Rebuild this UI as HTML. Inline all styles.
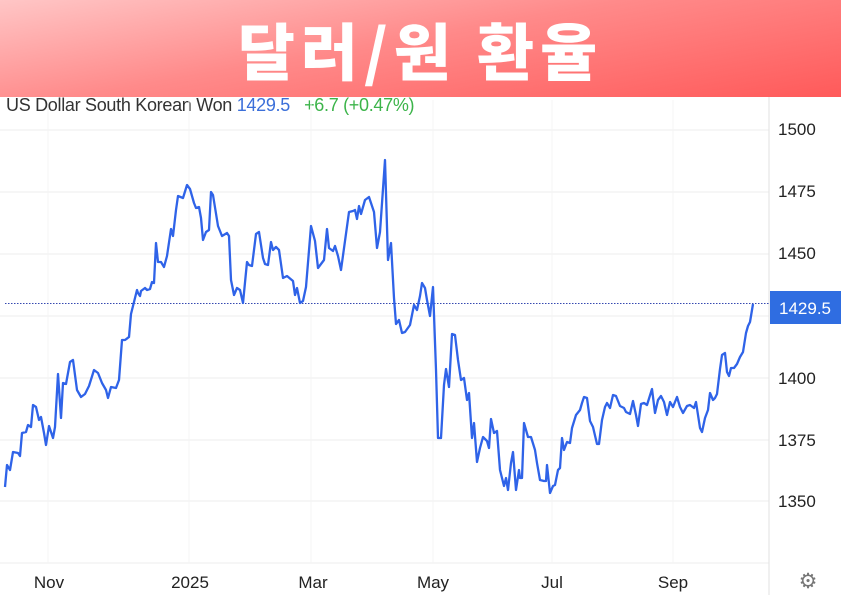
<!DOCTYPE html>
<html><head><meta charset="utf-8"><style>
body{margin:0;width:841px;height:595px;overflow:hidden;background:#fff;font-family:"Liberation Sans","Noto Sans CJK KR",sans-serif;}
.hdr{position:absolute;left:0;top:0;width:841px;height:97px;background:linear-gradient(170deg,#ffc6c6 0%,#ff8a8a 45%,#ff5a5a 100%);}
.hdr div{position:absolute;left:0;right:0;top:8px;text-align:center;color:#fff;font-weight:900;font-size:62px;letter-spacing:6px;font-family:"Noto Sans CJK KR","NanumGothic",sans-serif;line-height:80px;}
.sub{position:absolute;left:6px;top:95px;font-size:18px;color:#333;white-space:nowrap;letter-spacing:-0.3px}
</style></head><body>
<div class="hdr"><div>달러/원 환율</div></div>
<div class="sub">US Dollar South Korean Won <span style="color:#3b6fd9">1429.5</span> &nbsp; <span style="color:#3cb44a">+6.7 (+0.47%)</span></div>
<svg width="841" height="595" style="position:absolute;left:0;top:0" font-family="Liberation Sans, sans-serif">
<g stroke="#ececec" stroke-width="1">
<line x1="0" y1="130" x2="769" y2="130"/><line x1="0" y1="192" x2="769" y2="192"/><line x1="0" y1="254" x2="769" y2="254"/><line x1="0" y1="316" x2="769" y2="316"/><line x1="0" y1="378" x2="769" y2="378"/><line x1="0" y1="440" x2="769" y2="440"/><line x1="0" y1="501" x2="769" y2="501"/><line x1="0" y1="563" x2="769" y2="563"/>
</g>
<g stroke="#f4f4f4" stroke-width="1">
<line x1="48" y1="100" x2="48" y2="563"/><line x1="189" y1="100" x2="189" y2="563"/><line x1="311" y1="100" x2="311" y2="563"/><line x1="433" y1="100" x2="433" y2="563"/><line x1="552" y1="100" x2="552" y2="563"/><line x1="673" y1="100" x2="673" y2="563"/>
</g>
<line x1="769" y1="97" x2="769" y2="595" stroke="#e2e2e2"/>
<line x1="5" y1="303.5" x2="769" y2="303.5" stroke="#3548b0" stroke-width="1" stroke-dasharray="1.5,1.5"/>
<polyline fill="none" stroke="#2f63e8" stroke-width="2.3" stroke-linejoin="round" points="5,487 7,465 10,470 13,452 18,453 20,456 22,433 26,432 28,425 31,427 33,405 36,407 39,420 41,417 44,433 46,445 49,426 53,438 55,427 58,374 61,418 63,383 66,384 70,362 73,360 77,390 81,397 85,394 89,386 94,370 98,373 102,383 106,390 108,398 111,387 116,388 119,380 122,340 125,340 129,337 131,314 137,290 138,293 140,296 141,291 145,288 147,290 150,289 152,282 154,283 156,243 158,262 161,262 164,267 167,256 171,229 173,236 176,210 178,196 183,198 187,185 190,189 194,203 196,208 199,207 201,218 203,240 206,232 209,230 211,192 213,195 218,226 222,236 227,233 229,236 231,280 234,295 237,288 240,290 243,303 247,262 249,265 252,266 256,234 259,232 263,258 265,264 268,265 271,242 273,250 276,247 279,250 283,278 287,276 293,281 295,295 297,288 300,303 303,301 306,287 311,226 315,241 318,268 321,264 324,260 327,229 329,248 333,251 335,246 338,256 341,270 349,212 353,211 355,210 357,219 359,206 361,214 365,200 369,197 374,212 377,248 380,232 385,160 388,260 391,243 394,298 396,324 399,320 402,333 405,332 410,325 414,305 417,310 420,296 422,283 425,288 427,300 430,316 433,287 436,370 438,438 441,438 444,385 446,369 449,387 452,334 455,335 458,360 461,380 464,378 467,400 469,393 472,438 474,423 477,462 480,448 483,437 487,441 489,448 491,419 494,433 497,431 500,470 504,486 506,478 508,490 511,463 513,452 516,490 519,470 520,478 522,478 524,423 528,437 531,437 535,450 537,463 540,480 544,481 546,481 547,465 550,493 553,486 555,485 558,470 560,468 562,438 564,450 567,442 570,443 572,428 576,415 580,410 582,403 584,397 587,398 590,421 593,427 597,444 599,444 602,420 605,407 607,403 610,408 613,395 616,396 620,406 624,408 626,412 630,414 633,401 636,415 638,426 641,404 644,403 647,405 652,389 655,413 658,400 661,396 664,402 667,415 670,402 673,407 677,397 680,407 683,413 687,406 690,405 694,408 696,402 700,428 702,432 705,418 708,410 710,393 713,400 715,398 717,394 720,369 722,355 725,353 727,372 729,376 731,368 734,368 737,364 740,357 743,352 746,333 748,326 750,322 753,304"/>
<g font-size="17" fill="#222">
<text x="778" y="135">1500</text><text x="778" y="197">1475</text><text x="778" y="259">1450</text><text x="778" y="384">1400</text><text x="778" y="446">1375</text><text x="778" y="507">1350</text>
</g>
<rect x="770" y="291" width="71" height="33" fill="#2f6de1"/>
<text x="779" y="314" font-size="17" fill="#fff">1429.5</text>
<g font-size="17" fill="#222" text-anchor="middle">
<text x="49" y="588">Nov</text><text x="190" y="588">2025</text><text x="313" y="588">Mar</text><text x="433" y="588">May</text><text x="552" y="588">Jul</text><text x="673" y="588">Sep</text>
</g>
<text x="808" y="588" font-size="21" fill="#777" text-anchor="middle">⚙</text>
</svg>
</body></html>
